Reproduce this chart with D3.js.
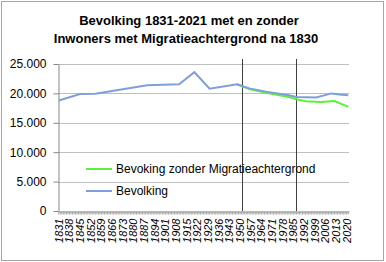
<!DOCTYPE html>
<html>
<head>
<meta charset="utf-8">
<script src="https://cdn.jsdelivr.net/npm/d3@7"></script>
<style>
  body { margin: 0; background: #fff; }
  text { font-family: "Liberation Sans", Arial, sans-serif; fill: #000; }
</style>
</head>
<body>
<div id="chart"></div>
<script>
// data
var years = d3.range(1831, 2022);
var labelYears = d3.range(1831, 2022, 7);
var yTicks = [0, 5000, 10000, 15000, 20000, 25000];
var markerYears = [1951, 1987];

var totalYears  = [1831, 1845, 1855, 1889, 1910, 1920, 1930, 1948, 1956, 1967, 1982, 1987, 2000, 2010, 2015, 2021];
var totalValues = [18800, 19900, 19950, 21400, 21550, 23600, 20800, 21550, 20850, 20300, 19700, 19400, 19300, 20000, 19800, 19700];

var nativeYears  = [1948, 1956, 1967, 1982, 1987, 1993, 2003, 2012, 2021];
var nativeValues = [21550, 20750, 20100, 19400, 19000, 18650, 18550, 18700, 17700];

var seriesNames = ["Bevoking zonder Migratieachtergrond", "Bevolking"];
var seriesColors = ["#5cf03a", "#7e9fdc"];

var width = 386, height = 262;
var margin = {top: 64, right: 37, bottom: 51, left: 58};

var svg = d3.select("#chart").append("svg")
    .attr("width", width)
    .attr("height", height);

// frame
svg.append("rect")
    .attr("x", 1.5).attr("y", 1.5)
    .attr("width", 382).attr("height", 259)
    .attr("fill", "#fff")
    .attr("stroke", "#a6a6a6");

// title
var title = svg.append("text")
    .attr("text-anchor", "middle")
    .style("font-weight", "bold")
    .style("font-size", "13px");
title.append("tspan").attr("x", 189).attr("y", 25).text("Bevolking 1831-2021 met en zonder");
title.append("tspan").attr("x", 186).attr("y", 43).text("Inwoners met Migratieachtergrond na 1830");

var x = d3.scaleBand()
    .domain(years)
    .range([margin.left, width - margin.right]);

var y = d3.scaleLinear()
    .domain([0, 25000])
    .range([height - margin.bottom, margin.top]);

var cx = function(yr){ return x(yr) + x.bandwidth() / 2; };

// gridlines
svg.append("g").selectAll("line")
    .data(yTicks.filter(function(d){ return d > 0; }))
    .enter().append("line")
    .attr("x1", margin.left).attr("x2", width - margin.right)
    .attr("y1", function(d){ return Math.round(y(d)) + 0.5; })
    .attr("y2", function(d){ return Math.round(y(d)) + 0.5; })
    .attr("stroke", "#bfbfbf");

// y axis
var fmt = function(d){ return d3.format(",")(d).replace(/,/g, "."); };
var yAxis = svg.append("g")
    .attr("transform", "translate(" + (margin.left + 0.5) + ",0)")
    .call(d3.axisLeft(y).tickValues(yTicks).tickSize(5).tickSizeOuter(0).tickFormat(fmt));
yAxis.select(".domain").attr("stroke", "#868686");
yAxis.selectAll(".tick line").attr("stroke", "#868686");
yAxis.selectAll(".tick text")
    .attr("x", -12)
    .style("font-size", "12px")
    .style("font-family", "'Liberation Sans', Arial, sans-serif");

// x axis, one tick per year, label every 7 years
var xAxis = svg.append("g")
    .attr("transform", "translate(0," + (Math.round(y(0)) + 0.5) + ")")
    .call(d3.axisBottom(x).tickValues(years).tickSize(3).tickSizeOuter(0)
      .tickFormat(function(d){ return labelYears.indexOf(d) >= 0 ? d : ""; }));
xAxis.select(".domain").attr("stroke", "#868686");
xAxis.selectAll(".tick line").attr("stroke", "#a6a6a6");
xAxis.selectAll(".tick text")
    .style("font-size", "11px")
    .style("font-style", "italic")
    .style("font-family", "'Liberation Sans', Arial, sans-serif")
    .attr("text-anchor", "end")
    .attr("transform", "rotate(-90)")
    .attr("x", -7)
    .attr("y", 0)
    .attr("dy", "0.35em");

// marker lines
svg.append("g").selectAll("line")
    .data(markerYears)
    .enter().append("line")
    .attr("x1", function(d){ return Math.round(cx(d)) + 0.5; })
    .attr("x2", function(d){ return Math.round(cx(d)) + 0.5; })
    .attr("y1", 59)
    .attr("y2", y(0))
    .attr("stroke", "#404040");

// series lines
var line = d3.line()
    .x(function(d){ return cx(d[0]); })
    .y(function(d){ return y(d[1]); });

svg.append("path")
    .datum(d3.zip(nativeYears, nativeValues))
    .attr("d", line)
    .attr("fill", "none")
    .attr("stroke", seriesColors[0])
    .attr("stroke-width", 2);

svg.append("path")
    .datum(d3.zip(totalYears, totalValues))
    .attr("d", line)
    .attr("fill", "none")
    .attr("stroke", seriesColors[1])
    .attr("stroke-width", 2);

// legend
var legend = svg.append("g").selectAll("g")
    .data(seriesNames)
    .enter().append("g")
    .attr("transform", function(d, i){ return "translate(86," + (169 + i * 22) + ")"; });
legend.append("line")
    .attr("x1", 0).attr("x2", 26)
    .attr("stroke", function(d, i){ return seriesColors[i]; })
    .attr("stroke-width", 2);
legend.append("text")
    .attr("x", 30)
    .attr("dy", "0.35em")
    .style("font-size", "12px")
    .text(function(d){ return d; });
</script>
</body>
</html>
